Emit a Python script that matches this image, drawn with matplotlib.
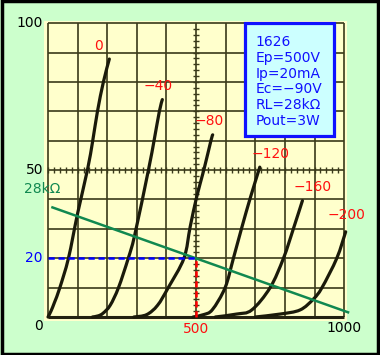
import matplotlib
matplotlib.use('Agg')
import matplotlib.pyplot as plt
from matplotlib.patches import Rectangle, PathPatch
from matplotlib.path import Path

# plate curves of the 1626 (V, mA)
grid_labels = ['0', '−40', '−80', '−120', '−160', '−200']
v_0 = [0, 10, 22, 40, 69, 100, 133, 151, 167, 187, 207]
i_0 = [0, 2, 5, 10, 20, 35.3, 50, 60, 70, 80, 87.8]
v_40 = [150, 170, 186, 210, 238, 271, 293, 339, 358, 376, 386]
i_40 = [0, 0.4, 1.3, 4, 10, 20, 28, 50, 60, 70, 74]
v_80 = [290, 333, 370, 406, 459, 480, 502, 526, 550, 556]
i_80 = [0, 0.8, 4, 10, 20, 30.7, 40.9, 50, 60, 62]
v_120 = [490, 525, 555, 598, 626, 655, 684, 715]
i_120 = [0, 0.8, 2.5, 10, 20, 30.7, 40.9, 51]
v_160 = [565, 637, 688, 750, 795, 829, 859]
i_160 = [0, 1, 2.4, 10, 20, 30.2, 39.6]
v_200 = [700, 784, 851, 896, 925, 975, 1005]
i_200 = [0, 1, 2.4, 6.1, 10, 20, 29]
curves = [(v_0, i_0), (v_40, i_40), (v_80, i_80),
          (v_120, i_120), (v_160, i_160), (v_200, i_200)]
# label centres (V, mA)
label_v = [172, 370, 544, 750, 895, 1007]
label_i = [92.3, 78.7, 66.7, 55.4, 44.2, 34.7]

# 28k load line and operating point
ll_v = [15, 1013]
ll_i = [37.3, 1.6]
op_v = 500
op_i = 20

info = ['1626', 'Ep=500V', 'Ip=20mA', 'Ec=−90V', 'RL=28kΩ', 'Pout=3W']

grid_x = [0, 100, 200, 300, 400, 500, 600, 700, 800, 900, 1000]
grid_y = [0, 10, 20, 30, 40, 50, 60, 70, 80, 90, 100]


def smooth_path(xs, ys):
    # catmull-rom through the read points, drawn as cubic bezier pieces
    pts = list(zip(xs, ys))
    verts = [pts[0]]
    codes = [Path.MOVETO]
    for k in range(len(pts) - 1):
        p0 = pts[k - 1] if k > 0 else pts[k]
        p1 = pts[k]
        p2 = pts[k + 1]
        p3 = pts[k + 2] if k + 2 < len(pts) else pts[k + 1]
        c1 = (p1[0] + (p2[0] - p0[0]) / 6, p1[1] + (p2[1] - p0[1]) / 6)
        c2 = (p2[0] - (p3[0] - p1[0]) / 6, p2[1] - (p3[1] - p1[1]) / 6)
        verts += [c1, c2, p2]
        codes += [Path.CURVE4] * 3
    return Path(verts, codes)


fig = plt.figure(figsize=(3.8, 3.55), dpi=100)
fig.patch.set_facecolor('#ccffcc')
fig.patches.append(Rectangle((0.004, 0.004), 0.992, 0.992, transform=fig.transFigure,
                             fill=False, edgecolor='black', lw=2.5))

ax = fig.add_axes([0.117, 0.0963, 0.795, 0.845])
ax.set_facecolor('#ffffcc')
ax.set_xlim(-12, 1008)
ax.set_ylim(-1.3, 100.8)
for s in ax.spines.values():
    s.set_visible(False)
ax.set_xticks([])
ax.set_yticks([])

gc = '#3a3a1a'
ax.vlines(grid_x, 0, 100, color=gc, lw=1.2, zorder=1)
ax.hlines(grid_y, 0, 1000, color=gc, lw=1.2, zorder=1)
ax.hlines(0, 0, 1000, color='#222211', lw=2.2, zorder=1)
# little scale marks on the 50mA and 500V lines
ax.plot(grid_x[:1] + list(range(20, 1000, 20)), [50] * 50, ls='none', marker='|',
        ms=5, mew=1, color=gc, zorder=1)
ax.plot([500] * 49, list(range(2, 100, 2)), ls='none', marker='_',
        ms=5, mew=1, color=gc, zorder=1)

for (v, i), lab, lv, li in zip(curves, grid_labels, label_v, label_i):
    ax.add_patch(PathPatch(smooth_path(v, i), fill=False, edgecolor='#1a1a0a', lw=2.3,
                           capstyle='round', joinstyle='round', zorder=3, clip_on=False))
    ax.text(lv, li, lab, color='#ff1010', fontsize=10, ha='center', va='center')

ax.plot(ll_v, ll_i, color='#108850', lw=1.8, zorder=4, clip_on=False)
ax.plot([0, op_v], [op_i, op_i], color='#0000ff', lw=1.8, ls=(0, (2.5, 1.5)), zorder=5)
ax.plot([op_v, op_v], [0, op_i], color='#ff0000', lw=1.8, ls=(0, (2.5, 1.5)), zorder=5)

# axis labels
ax.text(-17, 100, '100', fontsize=10, ha='right', va='center')
ax.text(-17, 50, '50', fontsize=10, ha='right', va='center')
ax.text(-20, 20, '20', fontsize=10, ha='right', va='center', color='#0000ff')
ax.text(-17, -3, '0', fontsize=10, ha='right', va='center')
ax.text(-80, 43.5, '28kΩ', fontsize=10, ha='left', va='center', color='#108850')
ax.text(500, -4, '500', fontsize=10, ha='center', va='center', color='#ff1010')
ax.text(1000, -3.7, '1000', fontsize=10, ha='center', va='center')

# info box
ax.add_patch(Rectangle((666, 61.5), 298, 38.5, facecolor='#ccffff',
                       edgecolor='#1010ff', lw=2.3, zorder=6))
for k, line in enumerate(info):
    ax.text(700, 93.5 - k * 5.35, line, fontsize=10, color='#1010ff',
            ha='left', va='center', zorder=7)

fig.savefig('out.png', dpi=100, facecolor=fig.get_facecolor())
